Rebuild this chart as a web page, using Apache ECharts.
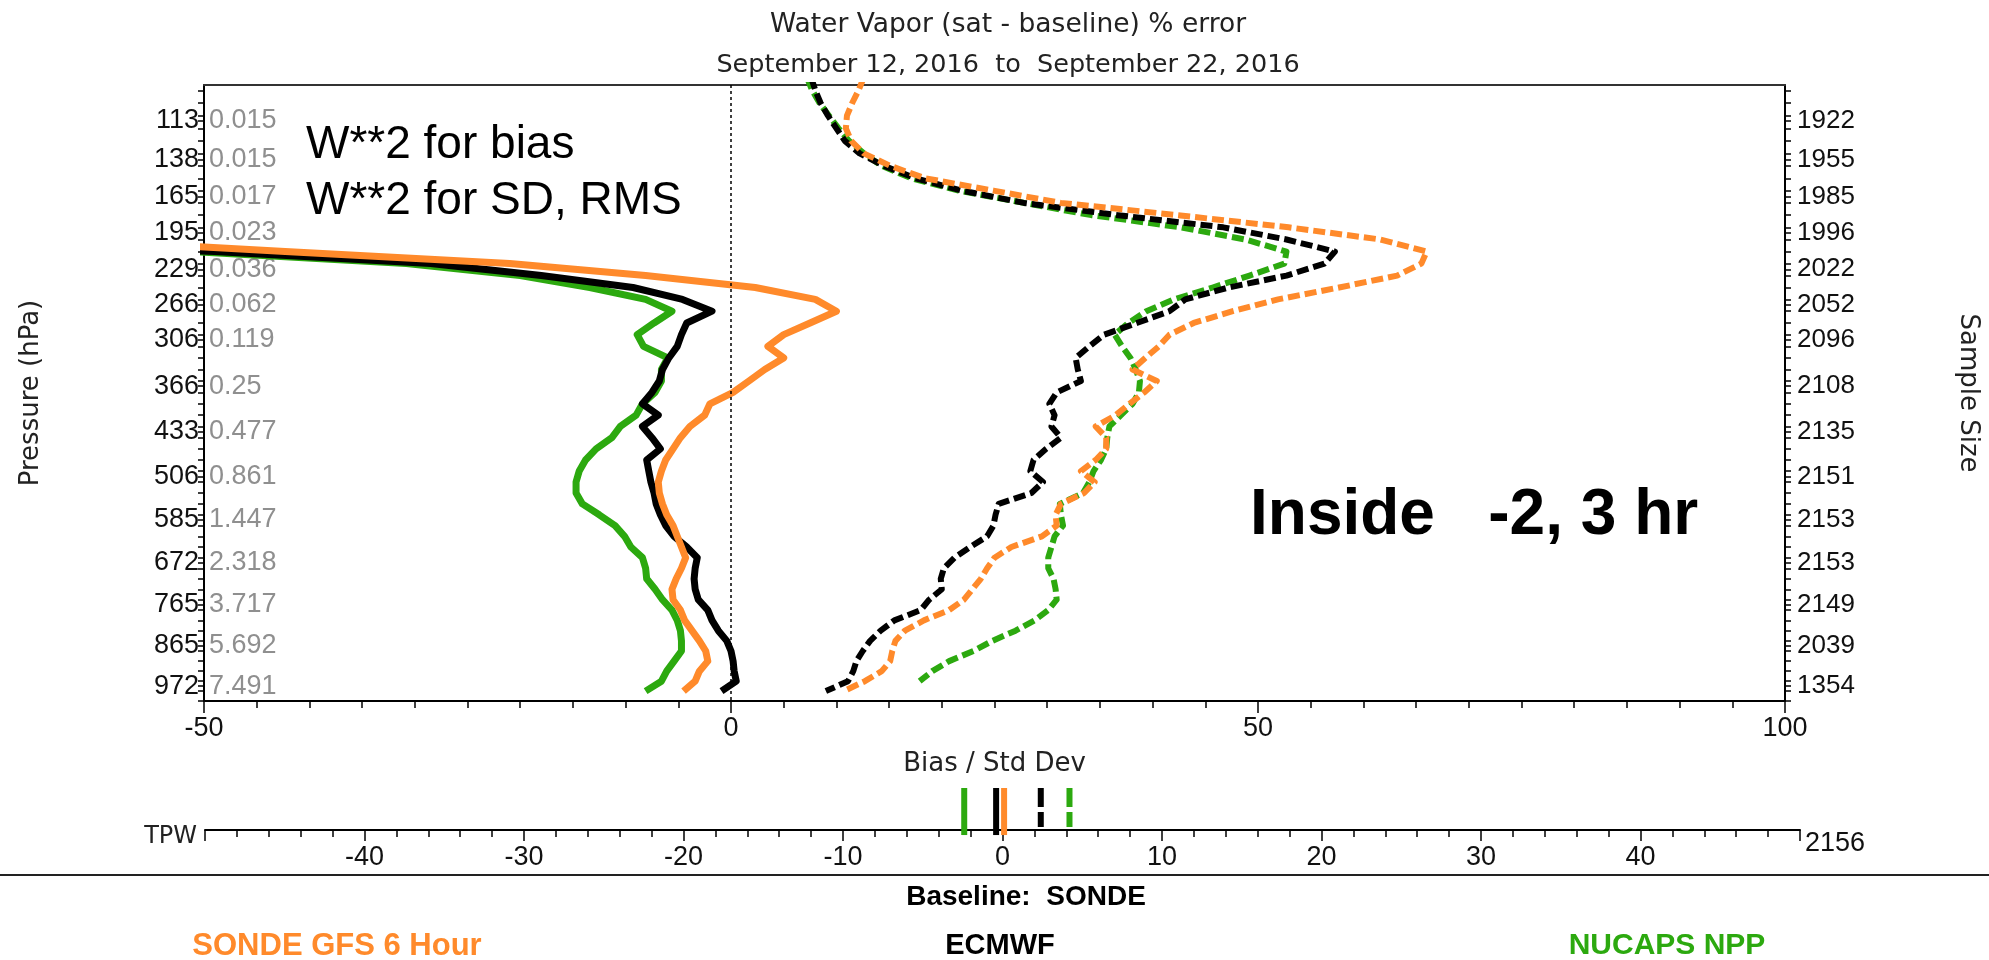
<!DOCTYPE html>
<html>
<head>
<meta charset="utf-8">
<title>Water Vapor (sat - baseline) % error</title>
<script src="https://cdn.jsdelivr.net/npm/echarts@6/dist/echarts.min.js"></script>
<style>
  html, body { margin: 0; padding: 0; background: #ffffff; }
  #chart { width: 1989px; height: 960px; }
</style>
</head>
<body>
<div id="chart"></div>
<script>
// ---- Data -------------------------------------------------------------

// Pressure levels (hPa) of the 100-level grid used for the profiles
const levelPressures = [89.52, 96.11, 103.02, 110.24, 117.78, 125.65, 133.85, 142.38, 151.27, 160.50,
  170.08, 180.02, 190.32, 200.99, 212.03, 223.44, 235.23, 247.41, 259.97, 272.92,
  286.26, 300.00, 314.14, 328.68, 343.62, 358.97, 374.72, 390.89, 407.47, 424.47,
  441.88, 459.71, 477.96, 496.63, 515.72, 535.23, 555.17, 575.52, 596.31, 617.51,
  639.14, 661.19, 683.67, 706.56, 729.88, 753.62, 777.78, 802.36, 827.36, 852.77,
  878.60, 904.84, 931.49, 958.55, 986.01];

// Bias (%) per level; null where no value is plotted
const biasGfs = [null, null, null, null, null, null, null, null, null, null, null, null, null,
  -63, -42.3, -21, -8.1, 2.3, 8.0, 10.0, 7.5, 5.0, 3.5, 5.0, 3.2, 1.7, 0.2, -2.0, -2.5,
  -3.9, -4.8, -5.5, -6.2, -6.6, -6.9, -6.8, -6.5, -6.1, -5.5, -5.1, -4.7, -4.3, -4.7,
  -5.2, -5.6, -5.5, -4.8, -4.4, -3.7, -3.0, -2.4, -2.2, -3.0, -3.4, -4.5];
const biasEcmwf = [null, null, null, null, null, null, null, null, null, null, null, null, null,
  -75, -49, -28.5, -18, -9.3, -4.6, -1.8, -4.2, -4.7, -5.1, -5.9, -6.5, -6.8, -7.5, -8.4, -6.9,
  -8.4, -7.5, -6.7, -8.0, -7.8, -7.6, -7.3, -7.1, -6.7, -6.2, -5.4, -4.2, -3.2, -3.4,
  -3.5, -3.4, -3.1, -2.2, -1.8, -1.2, -0.4, 0.0, 0.2, 0.3, 0.5, -0.9];
const biasNucaps = [null, null, null, null, null, null, null, null, null, null, null, null, null,
  -78, -51, -30.8, -20, -13.4, -8.1, -5.6, -7.3, -8.9, -8.3, -6.0, -6.6, -6.6, -7.2, -8.4, -9.0,
  -10.5, -11.3, -12.8, -13.8, -14.4, -14.7, -14.7, -14.1, -12.5, -11.0, -10.1, -9.5, -8.4, -8.1,
  -8.0, -7.2, -6.5, -5.6, -5.1, -4.8, -4.7, -4.7, -5.4, -6.1, -6.6, -8.1];

// Standard deviation (%) per level
const sdGfs = [12.6, 12.1, 11.5, 11.0, 10.9, 11.4, 12.6, 15.1, 18.4, 24.9, 31.3, 42.4, 52.9,
  61.6, 66.0, 65.5, 63.2, 57.7, 51.9, 47.6, 43.9, 41.6, 40.6, 39.3, 38.1, 40.4, 39.2, 37.8,
  36.5, 34.6, 35.6, 35.6, 34.6, 33.2, 34.5, 33.5, 31.3, 30.8, 30.9, 29.5, 26.6, 25.0, 24.3,
  23.7, 22.9, 22.1, 20.7, 18.3, 16.5, 15.6, 15.3, 15.1, 14.3, 12.7, 10.7];
const sdEcmwf = [7.6, 8.0, 8.5, 9.2, 10.0, 10.8, 12.2, 14.5, 17.5, 21.9, 27.8, 36.7, 46.7,
  52.7, 57.3, 56.3, 52.7, 47.2, 43.1, 41.6, 38.5, 35.4, 34.0, 32.7, 32.9, 33.2, 30.9, 30.2,
  30.7, 30.4, 31.3, 29.9, 28.7, 28.4, 29.6, 28.5, 25.4, 25.1, 24.9, 24.3, 22.7, 21.2, 20.2,
  19.9, 20.0, 18.8, 18.0, 15.5, 14.2, 13.2, 12.5, 11.9, 11.6, 11.1, 9.0];
const sdNucaps = [7.2, 7.7, 8.4, 9.3, 10.2, 11.2, 12.6, 14.3, 17.1, 21.6, 27.8, 34.2, 42.7,
  48.8, 52.7, 52.5, 49.2, 45.7, 42.0, 39.4, 37.7, 36.4, 37.1, 37.9, 38.4, 38.8, 38.7, 38.1,
  37.0, 35.9, 35.7, 35.6, 35.1, 34.4, 34.0, 33.4, 31.2, 31.3, 31.5, 30.7, 30.4, 30.1, 30.1,
  30.6, 30.8, 30.9, 30.1, 28.8, 27.0, 24.8, 23.0, 20.7, 19.1, 17.9, null];

// Layer labels: pressure (hPa), weight and sample size
const labelPressures = [113, 138, 165, 195, 229, 266, 306, 366, 433, 506, 585, 672, 765, 865, 972];
const labelWeights = ['0.015', '0.015', '0.017', '0.023', '0.036', '0.062', '0.119', '0.25',
  '0.477', '0.861', '1.447', '2.318', '3.717', '5.692', '7.491'];
const sampleSizes = [1922, 1955, 1985, 1996, 2022, 2052, 2096, 2108, 2135, 2151, 2153, 2153, 2149, 2039, 1354];

// Total precipitable water: bias and std dev, order GFS, ECMWF, NUCAPS
const tpwBias = [0.1, -0.4, -2.4];
const tpwStdDev = [null, 2.4, 4.2];
const tpwSampleSize = 2156;

const sourceNames = ['SONDE GFS 6 Hour', 'ECMWF', 'NUCAPS NPP'];

// ---- Helpers ----------------------------------------------------------

const COLORS = ['#FF8A2B', '#000000', '#2CA90F'];
const KAPPA = 2 / 7;                       // pressure axis is linear in p^(R/cp)
const toAxis = p => Math.pow(p, KAPPA);
const P_TOP = 93.35, P_BOTTOM = 1013.88;

const labelValues = labelPressures.map(toAxis);
const tickValues = levelPressures.slice(1).concat([P_BOTTOM]).map(toAxis).concat(labelValues);

function nearestLabel(v) {
  let best = 0, d = Infinity;
  labelValues.forEach((lv, i) => { const dd = Math.abs(lv - v); if (dd < d) { d = dd; best = i; } });
  return best;
}

function profilePoints(vals) {
  const out = [];
  levelPressures.forEach((p, i) => { if (vals[i] != null) out.push([vals[i], toAxis(p)]); });
  return out;
}

function profile(idx, vals, dashed) {
  return {
    name: sourceNames[idx] + (dashed ? ' std dev' : ' bias'),
    type: 'line', xAxisIndex: 0, yAxisIndex: 0,
    data: profilePoints(vals),
    symbol: 'none', showSymbol: false, clip: true, silent: true,
    lineStyle: { color: COLORS[idx], width: dashed ? 6 : 7, type: dashed ? [12, 5] : 'solid', cap: 'butt', join: 'round' },
    z: 3
  };
}

function tpwMarker(idx, v, dashed) {
  return {
    name: sourceNames[idx] + (dashed ? ' TPW std dev' : ' TPW bias'),
    type: 'line', xAxisIndex: 2, yAxisIndex: 3,
    data: dashed ? [[v, 1], [v, 0.07]] : [[v, 1], [v, -0.12]],
    symbol: 'none', clip: false, silent: true,
    lineStyle: { color: COLORS[idx], width: 6, type: dashed ? [19, 5] : 'solid', cap: 'butt' },
    z: 3
  };
}

const NUM_FONT = 'Liberation Sans, Arial, sans-serif';
const TXT_FONT = 'DejaVu Sans, sans-serif';
const yBase = { type: 'value', inverse: true, min: toAxis(P_TOP), max: toAxis(P_BOTTOM), splitLine: { show: false } };

// ---- Series -----------------------------------------------------------

const series = [
  Object.assign(profile(2, sdNucaps, true), {
    markLine: {
      silent: true, symbol: ['none', 'none'], label: { show: false },
      lineStyle: { color: '#000', width: 1.5, type: [3, 3] },
      data: [{ xAxis: 0 }]
    }
  }),
  profile(1, sdEcmwf, true),
  profile(0, sdGfs, true),
  profile(2, biasNucaps, false),
  profile(1, biasEcmwf, false),
  profile(0, biasGfs, false)
];
[2, 1, 0].forEach(i => {
  series.push(tpwMarker(i, tpwBias[i], false));
  if (tpwStdDev[i] != null) series.push(tpwMarker(i, tpwStdDev[i], true));
});

// ---- Chart ------------------------------------------------------------

const chart = echarts.init(document.getElementById('chart'), null, { renderer: 'canvas' });
chart.setOption({
  animation: false,
  backgroundColor: '#ffffff',
  title: {
    text: 'Water Vapor (sat - baseline) % error',
    subtext: 'September 12, 2016  to  September 22, 2016',
    left: 1003, top: 7, textAlign: 'center', itemGap: 13,
    textStyle: { fontFamily: TXT_FONT, fontSize: 26.5, fontWeight: 'normal', color: '#222' },
    subtextStyle: { fontFamily: TXT_FONT, fontSize: 25.5, color: '#222' }
  },
  grid: [
    { left: 204, top: 85, width: 1597, height: 616 },
    { left: 205, top: 788, width: 1595, height: 42 }
  ],
  xAxis: [
    {
      gridIndex: 0, type: 'value', position: 'bottom', min: -50, max: 100, interval: 50,
      name: 'Bias / Std Dev', nameLocation: 'middle', nameGap: 50,
      nameTextStyle: { fontFamily: TXT_FONT, fontSize: 26, color: '#222' },
      axisLine: { onZero: false, lineStyle: { color: '#000', width: 2 } },
      axisTick: { length: 12, lineStyle: { color: '#000', width: 1.5 } },
      minorTick: { show: true, splitNumber: 10, length: 7, lineStyle: { color: '#000', width: 1.5 } },
      axisLabel: { margin: 14, fontFamily: NUM_FONT, fontSize: 27, color: '#111' },
      splitLine: { show: false }
    },
    {
      gridIndex: 0, type: 'value', position: 'top', min: -50, max: 100,
      axisLine: { onZero: false, lineStyle: { color: '#333', width: 2 } },
      axisTick: { show: false }, axisLabel: { show: false }, splitLine: { show: false }
    },
    {
      gridIndex: 1, type: 'value', position: 'bottom', min: -50, max: 50, interval: 10,
      name: 'TPW', nameLocation: 'start', nameGap: 8,
      nameTextStyle: { fontFamily: TXT_FONT, fontSize: 24, color: '#222', verticalAlign: 'top', lineHeight: 14 },
      axisLine: { onZero: false, lineStyle: { color: '#000', width: 2 } },
      axisTick: { length: 11, lineStyle: { color: '#000', width: 1.5 } },
      minorTick: { show: true, splitNumber: 5, length: 7, lineStyle: { color: '#000', width: 1.5 } },
      axisLabel: {
        margin: 14, fontFamily: NUM_FONT, fontSize: 27, color: '#111',
        formatter: v => (v === -50 || v === 50) ? '' : String(v)
      },
      splitLine: { show: false }
    }
  ],
  yAxis: [
    Object.assign({}, yBase, {
      gridIndex: 0, position: 'left',
      name: 'Pressure (hPa)', nameLocation: 'middle', nameGap: 160, nameRotate: 90,
      nameTextStyle: { fontFamily: TXT_FONT, fontSize: 26, color: '#222' },
      axisLine: { show: true, onZero: false, lineStyle: { color: '#000', width: 2 } },
      axisTick: { show: true, length: 6, customValues: tickValues, lineStyle: { color: '#000', width: 1.5 } },
      axisLabel: {
        customValues: labelValues, margin: 5, fontFamily: NUM_FONT, fontSize: 27, color: '#111',
        formatter: v => String(labelPressures[nearestLabel(v)])
      }
    }),
    Object.assign({}, yBase, {
      gridIndex: 0, position: 'left',
      axisLine: { show: false, onZero: false }, axisTick: { show: false },
      axisLabel: {
        inside: true, customValues: labelValues, margin: 5, fontFamily: NUM_FONT, fontSize: 27, color: '#8f8f8f',
        formatter: v => labelWeights[nearestLabel(v)]
      }
    }),
    Object.assign({}, yBase, {
      gridIndex: 0, position: 'right',
      name: 'Sample Size', nameLocation: 'middle', nameGap: 170, nameRotate: -90,
      nameTextStyle: { fontFamily: TXT_FONT, fontSize: 26, color: '#222' },
      axisLine: { show: true, onZero: false, lineStyle: { color: '#000', width: 2 } },
      axisTick: { show: true, length: 6, customValues: tickValues, lineStyle: { color: '#000', width: 1.5 } },
      axisLabel: {
        customValues: labelValues, margin: 12, fontFamily: NUM_FONT, fontSize: 26, color: '#111',
        formatter: v => String(sampleSizes[nearestLabel(v)])
      }
    }),
    {
      gridIndex: 1, type: 'value', position: 'right', min: 0, max: 1,
      axisLine: { show: false, onZero: false }, axisTick: { show: false }, splitLine: { show: false },
      axisLabel: {
        customValues: [0], margin: 5, verticalAlign: 'top', fontFamily: NUM_FONT, fontSize: 27, color: '#111',
        formatter: () => String(tpwSampleSize)
      }
    }
  ],
  series: series,
  graphic: [
    { type: 'line', silent: true, shape: { x1: 0, y1: 875, x2: 1989, y2: 875 }, style: { stroke: '#222', lineWidth: 2 } },
    { type: 'text', silent: true, x: 306, y: 145, style: { text: 'W**2 for bias', font: '46px ' + NUM_FONT, fill: '#000', verticalAlign: 'middle' } },
    { type: 'text', silent: true, x: 306, y: 201, style: { text: 'W**2 for SD, RMS', font: '46px ' + NUM_FONT, fill: '#000', verticalAlign: 'middle' } },
    { type: 'text', silent: true, x: 1250, y: 516, style: { text: 'Inside   -2, 3 hr', font: 'bold 64px ' + NUM_FONT, fill: '#000', verticalAlign: 'middle' } },
    { type: 'text', silent: true, x: 1026, y: 897, style: { text: 'Baseline:  SONDE', font: 'bold 28px ' + NUM_FONT, fill: '#000', align: 'center', verticalAlign: 'middle' } },
    { type: 'text', silent: true, x: 337, y: 946, style: { text: sourceNames[0], font: 'bold 31px ' + NUM_FONT, fill: COLORS[0], align: 'center', verticalAlign: 'middle' } },
    { type: 'text', silent: true, x: 1000, y: 946, style: { text: sourceNames[1], font: 'bold 29px ' + NUM_FONT, fill: COLORS[1], align: 'center', verticalAlign: 'middle' } },
    { type: 'text', silent: true, x: 1667, y: 946, style: { text: sourceNames[2], font: 'bold 30px ' + NUM_FONT, fill: COLORS[2], align: 'center', verticalAlign: 'middle' } }
  ]
});
</script>
</body>
</html>
